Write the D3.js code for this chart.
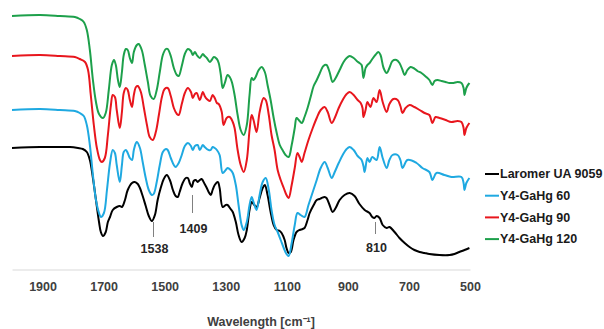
<!DOCTYPE html>
<html><head><meta charset="utf-8">
<script src="https://cdn.jsdelivr.net/npm/d3@7"></script>
<style>body{margin:0;background:#fff}svg{display:block}</style>
</head><body>
<svg id="c" width="604" height="329"></svg>
<script>
const xTicks = [1900,1700,1500,1300,1100,900,700,500];
const seriesNames = ["Laromer UA 9059","Y4-GaHg 60","Y4-GaHg 90","Y4-GaHg 120"];
const seriesColors = ["#000000","#1fa9e1","#e8161d","#1da04b"];
const peakLabels = [{wn:1538,text:"1538"},{wn:1409,text:"1409"},{wn:810,text:"810"}];

const laromer = [[2000,122],[1908,123],[1843,123],[1810,123],[1784,122],[1768,121],[1755,118],[1745,110],[1735,92],[1725,70],[1715,48],[1709,38],[1702,34],[1693,38],[1686,48],[1679,53],[1670,60],[1657,63],[1647,64],[1640,63],[1630,70],[1621,80],[1607,87],[1598,88],[1588,86],[1581,82],[1572,74],[1562,64],[1552,54],[1542,49],[1532,55],[1523,70],[1513,82],[1503,91],[1493,95],[1483,90],[1473,80],[1464,74],[1457,73],[1451,78],[1441,87],[1431,92],[1424,92],[1418,87],[1411,83],[1405,89],[1398,90],[1392,88],[1385,90],[1379,91],[1369,86],[1362,82],[1356,78],[1349,75],[1343,80],[1336,85],[1326,88],[1320,82],[1310,63],[1300,65],[1294,65],[1284,61],[1277,58],[1267,48],[1258,35],[1248,28],[1238,32],[1231,40],[1222,60],[1215,68],[1209,66],[1199,63],[1189,72],[1179,82],[1172,85],[1163,75],[1153,58],[1143,45],[1133,40],[1123,39],[1117,37],[1107,30],[1101,22],[1094,17],[1087,18],[1078,30],[1068,38],[1058,40],[1048,41],[1042,42],[1032,50],[1025,57],[1012,65],[1002,70],[993,71],[986,72],[976,73],[970,72],[960,65],[950,58],[940,62],[927,70],[911,75],[894,77],[878,74],[862,66],[845,60],[829,57],[820,53],[813,52],[806,54],[796,52],[786,45],[773,42],[764,43],[747,38],[731,32],[714,27],[698,23],[682,20],[665,18],[649,17],[633,16],[600,15],[567,15],[551,16],[535,18],[518,20],[502,22]];

const gahg60 = [[2000,160],[1908,161],[1843,160],[1794,159],[1778,157],[1765,154],[1755,145],[1745,125],[1735,95],[1725,70],[1715,57],[1709,53],[1699,57],[1689,80],[1679,107],[1670,120],[1663,117],[1657,105],[1647,88],[1640,105],[1634,118],[1627,120],[1621,117],[1614,112],[1607,110],[1601,120],[1594,127],[1591,128],[1581,122],[1572,108],[1562,92],[1552,80],[1542,75],[1536,76],[1526,88],[1516,105],[1506,118],[1496,121],[1490,120],[1480,112],[1470,105],[1464,103],[1454,107],[1444,115],[1434,124],[1424,127],[1414,124],[1408,120],[1401,124],[1392,125],[1385,120],[1375,125],[1369,123],[1362,121],[1356,120],[1349,120],[1343,123],[1336,122],[1329,120],[1320,115],[1310,97],[1300,100],[1294,102],[1284,100],[1277,97],[1267,85],[1258,65],[1248,45],[1241,40],[1231,48],[1222,65],[1215,73],[1209,68],[1199,60],[1189,75],[1179,88],[1169,92],[1159,80],[1150,60],[1140,45],[1130,38],[1120,30],[1110,22],[1101,16],[1094,14],[1084,27],[1074,45],[1065,57],[1055,55],[1042,53],[1029,65],[1015,78],[1002,90],[989,102],[976,108],[966,102],[953,92],[943,98],[930,107],[917,115],[904,121],[894,123],[881,120],[868,114],[855,110],[849,104],[845,98],[836,112],[829,108],[820,113],[806,110],[796,123],[786,112],[773,102],[764,110],[754,115],[737,115],[728,110],[721,102],[705,110],[675,107],[656,102],[633,98],[623,90],[610,97],[584,95],[561,93],[528,93],[521,87],[518,80],[512,87],[502,92]];

const gahg90 = [[2000,214],[1908,215],[1843,214],[1794,213],[1778,211],[1761,208],[1751,200],[1742,175],[1732,145],[1722,122],[1712,110],[1706,108],[1696,112],[1686,135],[1676,165],[1670,175],[1663,173],[1657,160],[1647,142],[1640,158],[1634,177],[1627,182],[1621,180],[1614,170],[1607,163],[1601,175],[1594,183],[1588,184],[1578,178],[1568,162],[1558,145],[1549,133],[1539,130],[1529,138],[1519,155],[1509,173],[1500,181],[1490,182],[1480,174],[1470,162],[1460,156],[1454,155],[1444,166],[1434,177],[1424,182],[1414,178],[1408,172],[1401,176],[1395,177],[1385,170],[1375,178],[1369,174],[1362,171],[1352,169],[1343,175],[1336,172],[1329,167],[1323,166],[1313,158],[1307,145],[1297,152],[1287,153],[1277,148],[1271,142],[1261,120],[1251,105],[1241,98],[1231,110],[1222,140],[1215,155],[1209,150],[1199,138],[1189,158],[1176,172],[1169,170],[1159,155],[1150,135],[1140,120],[1130,100],[1120,90],[1110,82],[1101,75],[1094,72],[1084,85],[1074,102],[1065,117],[1058,113],[1051,108],[1042,117],[1029,130],[1015,142],[1002,152],[989,160],[976,163],[966,158],[953,147],[943,152],[930,162],[917,170],[904,176],[894,178],[881,175],[868,170],[858,167],[852,162],[849,153],[842,160],[836,168],[826,163],[816,172],[806,168],[796,180],[786,168],[773,158],[764,166],[751,171],[737,170],[728,164],[721,157],[711,162],[698,165],[682,163],[665,160],[649,157],[633,155],[623,147],[613,153],[600,152],[580,150],[561,148],[541,149],[528,148],[521,142],[518,135],[512,142],[502,147]];

const gahg120 = [[2000,254],[1908,255],[1843,254],[1794,253],[1778,251],[1765,248],[1755,240],[1745,220],[1735,190],[1725,168],[1715,156],[1702,152],[1693,157],[1683,180],[1673,205],[1666,210],[1660,205],[1653,190],[1647,183],[1640,198],[1634,215],[1627,221],[1621,220],[1614,212],[1607,207],[1601,218],[1591,225],[1585,226],[1575,220],[1565,205],[1555,188],[1546,174],[1536,171],[1526,180],[1516,198],[1506,215],[1496,221],[1490,221],[1480,214],[1470,202],[1460,195],[1454,194],[1444,204],[1434,216],[1424,221],[1414,219],[1408,215],[1401,218],[1395,215],[1385,212],[1375,216],[1369,214],[1362,212],[1352,208],[1346,210],[1339,213],[1329,211],[1323,207],[1316,195],[1310,182],[1303,187],[1294,195],[1287,193],[1280,188],[1271,175],[1261,155],[1251,140],[1241,135],[1231,145],[1222,175],[1215,192],[1209,190],[1202,193],[1192,200],[1182,203],[1172,198],[1163,185],[1153,170],[1143,152],[1133,137],[1123,125],[1114,120],[1104,115],[1094,113],[1084,125],[1074,142],[1068,152],[1061,150],[1051,147],[1042,153],[1032,162],[1022,173],[1012,184],[1002,190],[993,196],[980,204],[970,205],[960,198],[950,188],[940,192],[927,200],[914,208],[904,212],[894,214],[881,212],[871,209],[862,207],[855,205],[849,192],[842,202],[836,205],[829,207],[820,211],[810,215],[800,218],[793,215],[783,202],[773,197],[764,202],[754,209],[741,210],[731,207],[721,200],[714,195],[705,200],[695,203],[685,202],[672,199],[659,197],[643,193],[633,190],[623,185],[616,189],[606,190],[593,189],[580,188],[567,187],[554,187],[541,188],[528,187],[521,182],[518,175],[512,182],[502,187]];

const allSeries = [laromer, gahg60, gahg90, gahg120];

const svg = d3.select("#c");
const x = d3.scaleLinear().domain([2000, 500]).range([12, 470]);
const y = d3.scaleLinear().domain([0, 270]).range([270, 0]);
const font = "'Liberation Sans', Arial, sans-serif";

// baseline axis
const axis = d3.axisBottom(x).tickValues(xTicks).tickSize(0).tickPadding(13).tickFormat(d3.format("d"));
const gAx = svg.append("g").attr("transform", "translate(0,269.5)").call(axis);
gAx.select(".domain").attr("stroke", "#d9d9d9").attr("stroke-width", 1);
gAx.selectAll("text").attr("font-family", font).attr("font-size", "12.5px").attr("font-weight", "bold").attr("fill", "#404040");

const line = d3.line().x(d => x(d[0])).y(d => y(d[1])).curve(d3.curveCatmullRom.alpha(0.5));
allSeries.forEach((s, i) => {
  svg.append("path").datum(s).attr("d", line).attr("fill", "none")
    .attr("stroke", seriesColors[i]).attr("stroke-width", 2).attr("stroke-linejoin", "round");
});

// peak annotations on black series
const labelOffsets = {"1538": [48, 33, 17], "1409": [75, 57, 37], "810": [48, 36, 18]};
peakLabels.forEach(p => {
  const px = Math.round(x(p.wn)) + 0.5;
  const o = labelOffsets[p.text];
  svg.append("line").attr("x1", px).attr("x2", px).attr("y1", y(o[0])).attr("y2", y(o[1]))
    .attr("stroke", "#808080").attr("stroke-width", 1);
  svg.append("text").attr("x", px + 1).attr("y", y(o[2])).attr("text-anchor", "middle")
    .attr("font-family", font).attr("font-size", "12.5px").attr("font-weight", "bold").attr("fill", "#262626").text(p.text);
});

// axis title
svg.append("text").attr("x", 261).attr("y", 326).attr("text-anchor", "middle")
  .attr("font-family", font).attr("font-size", "12.5px").attr("font-weight", "bold").attr("fill", "#404040")
  .text("Wavelength [cm\u207B\u00B9]");

// legend
const lg = svg.append("g");
seriesNames.forEach((n, i) => {
  const yy = 174 + i * 21.7;
  lg.append("line").attr("x1", 485).attr("x2", 499).attr("y1", yy).attr("y2", yy)
    .attr("stroke", seriesColors[i]).attr("stroke-width", 2);
  lg.append("text").attr("x", 500).attr("y", yy).attr("dy", "0.35em")
    .attr("font-family", font).attr("font-size", "12.5px").attr("font-weight", "bold").attr("fill", "#1a1a1a").text(n);
});
</script>
</body></html>
